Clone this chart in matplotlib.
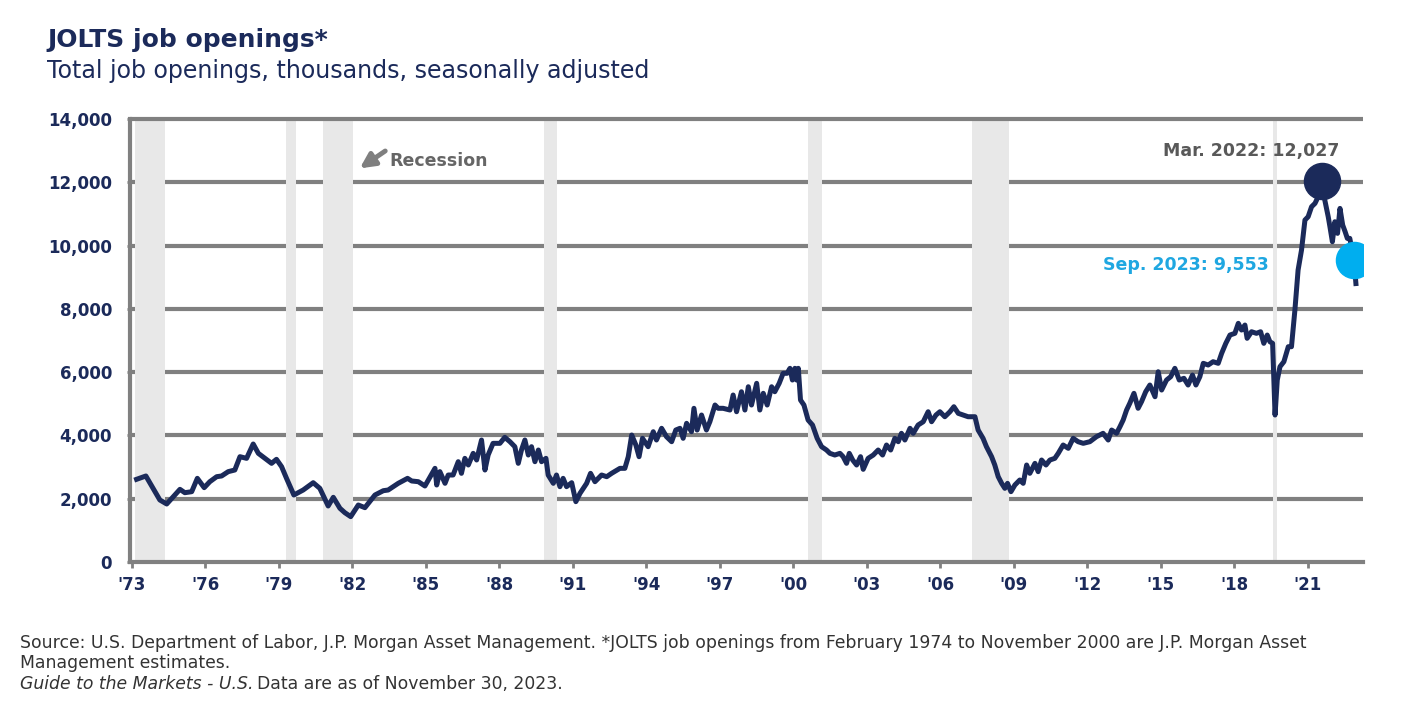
import matplotlib
matplotlib.use("Agg")
import matplotlib.pyplot as plt

# Job openings (thousands), x positions in chart years
years = [
    1973.19, 1973.57, 1974.14, 1974.42, 1974.96, 1975.16, 1975.44, 1975.67, 1975.95, 1976.18,
    1976.46, 1976.66, 1976.93, 1977.20, 1977.41, 1977.68, 1977.95, 1978.16, 1978.43, 1978.70,
    1978.90, 1979.11, 1979.31, 1979.61, 1979.99, 1980.40, 1980.67, 1981.01, 1981.22, 1981.49,
    1981.69, 1981.93, 1982.24, 1982.51, 1982.92, 1983.26, 1983.46, 1983.87, 1984.25, 1984.42,
    1984.69, 1984.96,
    1985.10, 1985.37, 1985.44, 1985.57, 1985.78, 1985.91, 1986.11, 1986.32, 1986.45, 1986.59,
    1986.73, 1986.93, 1987.07, 1987.27, 1987.41, 1987.54, 1987.74, 1988.02, 1988.22, 1988.43,
    1988.63, 1988.77, 1988.90, 1989.04, 1989.18, 1989.31, 1989.45, 1989.59, 1989.72, 1989.90,
    1989.99, 1990.20, 1990.33, 1990.47, 1990.60, 1990.74, 1990.95, 1991.12, 1991.29, 1991.56,
    1991.72, 1991.90, 1992.17, 1992.38, 1992.58, 1992.92, 1993.12, 1993.26, 1993.40, 1993.57,
    1993.70, 1993.84, 1994.07, 1994.28, 1994.41, 1994.62, 1994.82, 1995.03, 1995.20, 1995.37,
    1995.50, 1995.64, 1995.84, 1995.94, 1996.07, 1996.25, 1996.45, 1996.59, 1996.80, 1996.93,
    1997.13,
    1997.41, 1997.54, 1997.68, 1997.88, 1998.02, 1998.16, 1998.29, 1998.50, 1998.63, 1998.77,
    1998.93, 1999.11, 1999.24, 1999.42, 1999.58, 1999.74, 1999.86, 1999.96, 2000.06, 2000.13,
    2000.20, 2000.29, 2000.43, 2000.60, 2000.78, 2000.97, 2001.15, 2001.35, 2001.49, 2001.69,
    2001.90, 2002.03, 2002.17, 2002.28, 2002.42, 2002.58, 2002.74, 2002.85, 2003.05, 2003.26,
    2003.46, 2003.64, 2003.80, 2003.97, 2004.14, 2004.28, 2004.41, 2004.55, 2004.76, 2004.89,
    2005.09, 2005.30, 2005.50, 2005.64, 2005.82, 2005.98, 2006.18, 2006.39, 2006.55, 2006.73,
    2006.93, 2007.13, 2007.41, 2007.54, 2007.74, 2007.88, 2008.09, 2008.22, 2008.36, 2008.50,
    2008.63, 2008.74, 2008.88, 2009.04, 2009.24, 2009.38, 2009.52, 2009.65, 2009.86, 2009.99,
    2010.13, 2010.31, 2010.47, 2010.67,
    2010.81, 2011.01, 2011.22, 2011.42, 2011.62, 2011.83, 2012.10, 2012.37, 2012.64, 2012.85,
    2012.99, 2013.19, 2013.33, 2013.46, 2013.60, 2013.73, 2013.90, 2014.07, 2014.21, 2014.38,
    2014.55, 2014.76, 2014.89, 2015.03, 2015.23, 2015.40, 2015.57, 2015.75, 2015.94, 2016.11,
    2016.29, 2016.43, 2016.59, 2016.73, 2016.93, 2017.13, 2017.34, 2017.48, 2017.65, 2017.82,
    2018.02, 2018.16, 2018.29, 2018.43, 2018.52, 2018.70, 2018.90, 2019.07, 2019.20, 2019.34,
    2019.45, 2019.56, 2019.66, 2019.75, 2019.86, 2020.02, 2020.20, 2020.33, 2020.47, 2020.60,
    2020.74, 2020.88, 2021.01, 2021.15, 2021.29, 2021.42, 2021.56, 2021.69, 2021.83, 2021.90,
    2022.00, 2022.10, 2022.21, 2022.31, 2022.42, 2022.52, 2022.61, 2022.71, 2022.88, 2022.96,
]
openings = [
    2613, 2718, 1960, 1833, 2296, 2190, 2222, 2644, 2349, 2538,
    2696, 2718, 2855, 2907, 3328, 3276, 3729, 3434, 3276, 3118,
    3245, 3012, 2644, 2117, 2275, 2506, 2328, 1770, 2044, 1697,
    1559, 1433, 1801, 1717, 2117, 2253, 2275, 2486, 2644, 2560,
    2538, 2402,
    2591, 2960, 2433, 2855, 2486, 2749, 2749, 3170, 2802, 3276,
    3065, 3434, 3223, 3855, 2907, 3381, 3750, 3750, 3940, 3802,
    3644, 3118, 3539, 3855, 3381, 3644, 3170, 3539, 3170, 3276,
    2749, 2486, 2749, 2380, 2644, 2380, 2506, 1906, 2170, 2486,
    2802, 2538, 2749, 2696, 2802, 2960, 2960, 3328, 4013, 3697,
    3328, 3909, 3644, 4118, 3855, 4225, 3960, 3802, 4171, 4225,
    3909, 4383, 4118, 4857, 4171, 4645, 4171, 4433, 4961, 4857,
    4857,
    4803, 5277, 4749, 5381, 4803, 5539, 4961, 5647, 4803, 5331,
    4961, 5539, 5381, 5647, 5963, 5963, 6121, 5751, 6121, 5751,
    6121, 5119, 4961, 4487, 4329, 3909, 3644, 3539, 3434, 3381,
    3434, 3328, 3118, 3434, 3223, 3065, 3328, 2929, 3276, 3381,
    3539, 3381, 3697, 3539, 3909, 3802, 4067, 3855, 4225, 4067,
    4329, 4433, 4749, 4433, 4645, 4749, 4591, 4749, 4907, 4698,
    4645, 4591, 4591, 4171, 3909, 3644, 3328, 3065, 2696, 2486,
    2328, 2486, 2222, 2433, 2591, 2486, 3065, 2802, 3118, 2855,
    3223, 3065, 3223, 3276,
    3434, 3697, 3592, 3909, 3802, 3750, 3802, 3960, 4067, 3855,
    4171, 4067, 4277, 4487, 4803, 5015, 5331, 4857, 5067, 5381,
    5593, 5223, 6013, 5435, 5751, 5856, 6121, 5751, 5805, 5593,
    5909, 5593, 5856, 6279, 6225, 6330, 6279, 6595, 6911, 7173,
    7227, 7543, 7331, 7489, 7069, 7277, 7227, 7277, 6911, 7173,
    6962, 6911, 4645, 5751, 6172, 6330, 6804, 6804, 7963, 9227,
    9859, 10807, 10912, 11228, 11334, 11545, 12027, 11439, 10912, 10596,
    10121, 10754, 10386, 11175, 10649, 10438, 10228, 10228, 9553, 8800,
]

# Recession bands (chart years)
recession_start = [1973.12, 1979.29, 1980.81, 1989.82, 2000.60, 2007.31, 2019.58]
recession_end = [1974.35, 1979.68, 1982.01, 1990.36, 2001.15, 2008.81, 2019.75]

# Highlighted points
peak_x, peak_y = 2021.56, 12027
last_x, last_y = 2022.88, 9553

tick_years = list(range(1973, 2022, 3))
tick_labels = ["'" + str(y)[2:] for y in tick_years]
y_ticks = list(range(0, 14001, 2000))

navy = "#1b2a5a"
grid_gray = "#808080"
band_gray = "#e8e8e8"
light_blue = "#00aeef"

plt.rcParams["font.family"] = ["DejaVu Sans"]

fig = plt.figure(figsize=(14.25, 7.14), dpi=100)
ax = fig.add_axes([0.0912, 0.2129, 0.8653, 0.6204])

ax.set_xlim(1972.92, 2023.25)
ax.set_ylim(0, 14000)

# Horizontal grid lines, covered by the recession bands
for v in y_ticks[1:-1]:
    ax.axhline(v, color=grid_gray, lw=3, zorder=0.5, solid_capstyle="butt")
ax.axhline(14000, color=grid_gray, lw=3, zorder=1.5, clip_on=False, solid_capstyle="butt")

for s, e in zip(recession_start, recession_end):
    ax.axvspan(s, e, color=band_gray, lw=0, zorder=1)

ax.plot(years, openings, color=navy, lw=3.6, zorder=3, solid_joinstyle="round")

ax.plot([peak_x], [peak_y], "o", color=navy, markersize=26, zorder=4)
ax.plot([last_x], [last_y], "o", color=light_blue, markersize=26, zorder=4)

ax.text(2022.29, 12997, "Mar. 2022: 12,027", color="#595959", fontsize=12.5,
        fontweight="bold", ha="right", va="center", zorder=5)
ax.text(2019.40, 9385, "Sep. 2023: 9,553", color="#1fa7e1", fontsize=12.5,
        fontweight="bold", ha="right", va="center", zorder=5)

# Recession label with arrow
ax.annotate("", xy=(1982.30, 12440), xytext=(1983.34, 12990),
            arrowprops=dict(arrowstyle="-|>", color="#7f7f7f", lw=3.5,
                            mutation_scale=22, shrinkA=0, shrinkB=0))
ax.text(1983.52, 12672, "Recession", color="#666666", fontsize=12.5,
        fontweight="bold", ha="left", va="center")

# Axes styling
for side in ["top", "right"]:
    ax.spines[side].set_visible(False)
ax.spines["left"].set_color(grid_gray)
ax.spines["left"].set_linewidth(3)
ax.spines["bottom"].set_color(grid_gray)
ax.spines["bottom"].set_linewidth(3)

ax.set_xticks(tick_years)
ax.set_xticklabels(tick_labels)
ax.set_yticks(y_ticks)
ax.set_yticklabels([f"{v:,}" for v in y_ticks])
ax.tick_params(axis="x", colors=grid_gray, length=4, width=2, pad=6)
ax.tick_params(axis="y", colors=grid_gray, length=2, width=2, pad=11)
for lab in ax.get_xticklabels() + ax.get_yticklabels():
    lab.set_color(navy)
    lab.set_fontweight("bold")
    lab.set_fontsize(12)

# Titles
fig.text(0.033, 0.9346, "JOLTS job openings*", color=navy, fontsize=18,
         fontweight="bold", ha="left", va="baseline")
fig.text(0.033, 0.8903, "Total job openings, thousands, seasonally adjusted",
         color=navy, fontsize=17.1, ha="left", va="baseline")

# Footnotes
foot_color = "#333333"
foot_size = 12.4
fig.text(0.014, 0.0999, "Source: U.S. Department of Labor, J.P. Morgan Asset Management. "
         "*JOLTS job openings from February 1974 to November 2000 are J.P. Morgan Asset",
         color=foot_color, fontsize=foot_size, ha="left", va="center")
fig.text(0.014, 0.0714, "Management estimates.", color=foot_color, fontsize=foot_size,
         ha="left", va="center")
guide = fig.text(0.014, 0.042, "Guide to the Markets - U.S.", color=foot_color,
                 fontsize=foot_size, style="italic", ha="left", va="center")
renderer = fig.canvas.get_renderer()
bb = guide.get_window_extent(renderer=renderer)
x_next = (bb.x1 + 4) / fig.bbox.width
fig.text(x_next, 0.042, "Data are as of November 30, 2023.", color=foot_color,
         fontsize=foot_size, ha="left", va="center")

fig.savefig("out.png", dpi=100)
